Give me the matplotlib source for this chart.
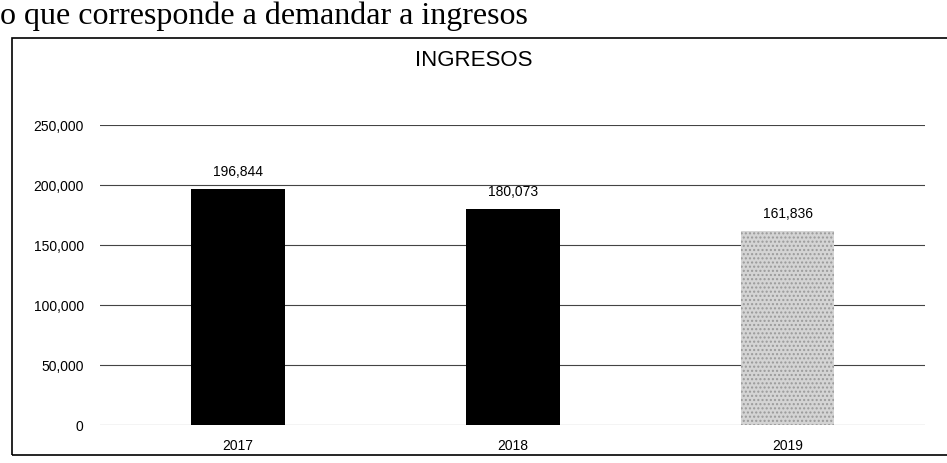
import matplotlib.pyplot as plt
import matplotlib.patches as mpatches
from matplotlib.ticker import FuncFormatter

years = ["2017", "2018", "2019"]
ingresos = [196844, 180073, 161836]
bar_colors = ["#000000", "#000000", "#d4d4d4"]
y_ticks = [0, 50000, 100000, 150000, 200000, 250000]

plt.rcParams["font.family"] = ["Liberation Sans", "DejaVu Sans"]

fig = plt.figure(figsize=(9.47, 4.63), dpi=100)

# line of the document text above the chart
fig.text(0.0, 0.948, "o que corresponde a demandar a ingresos",
         family="Liberation Serif", fontsize=23, va="baseline", ha="left")

# frame around the chart
frame = mpatches.Rectangle((0.013, 0.017), 1.2, 0.90, transform=fig.transFigure,
                           fill=False, edgecolor="black", lw=1.2)
fig.patches.append(frame)

ax = fig.add_axes([0.106, 0.082, 0.871, 0.648])
bars = ax.bar(years, ingresos, width=0.34, color=bar_colors, zorder=2)
bars[2].set_hatch("....")
bars[2].set_edgecolor("#9a9a9a")
bars[2].set_linewidth(0)

for b, v in zip(bars, ingresos):
    ax.annotate(f"{v:,}", (b.get_x() + b.get_width() / 2, v),
                xytext=(0, 7), textcoords="offset points",
                ha="center", va="bottom", fontsize=10)

ax.set_xlim(-0.5, 2.5)
ax.set_ylim(0, 250000)
ax.set_yticks(y_ticks)
ax.yaxis.set_major_formatter(FuncFormatter(lambda v, p: f"{int(v):,}"))
ax.grid(axis="y", color="#444444", lw=0.8, zorder=0)
ax.tick_params(length=0, labelsize=10)
ax.tick_params(axis="y", pad=12)
ax.tick_params(axis="x", pad=10)
for s in ax.spines.values():
    s.set_visible(False)

fig.text(0.5, 0.87, "INGRESOS", ha="center", va="center", fontsize=16)

fig.savefig("out.png", dpi=100)
